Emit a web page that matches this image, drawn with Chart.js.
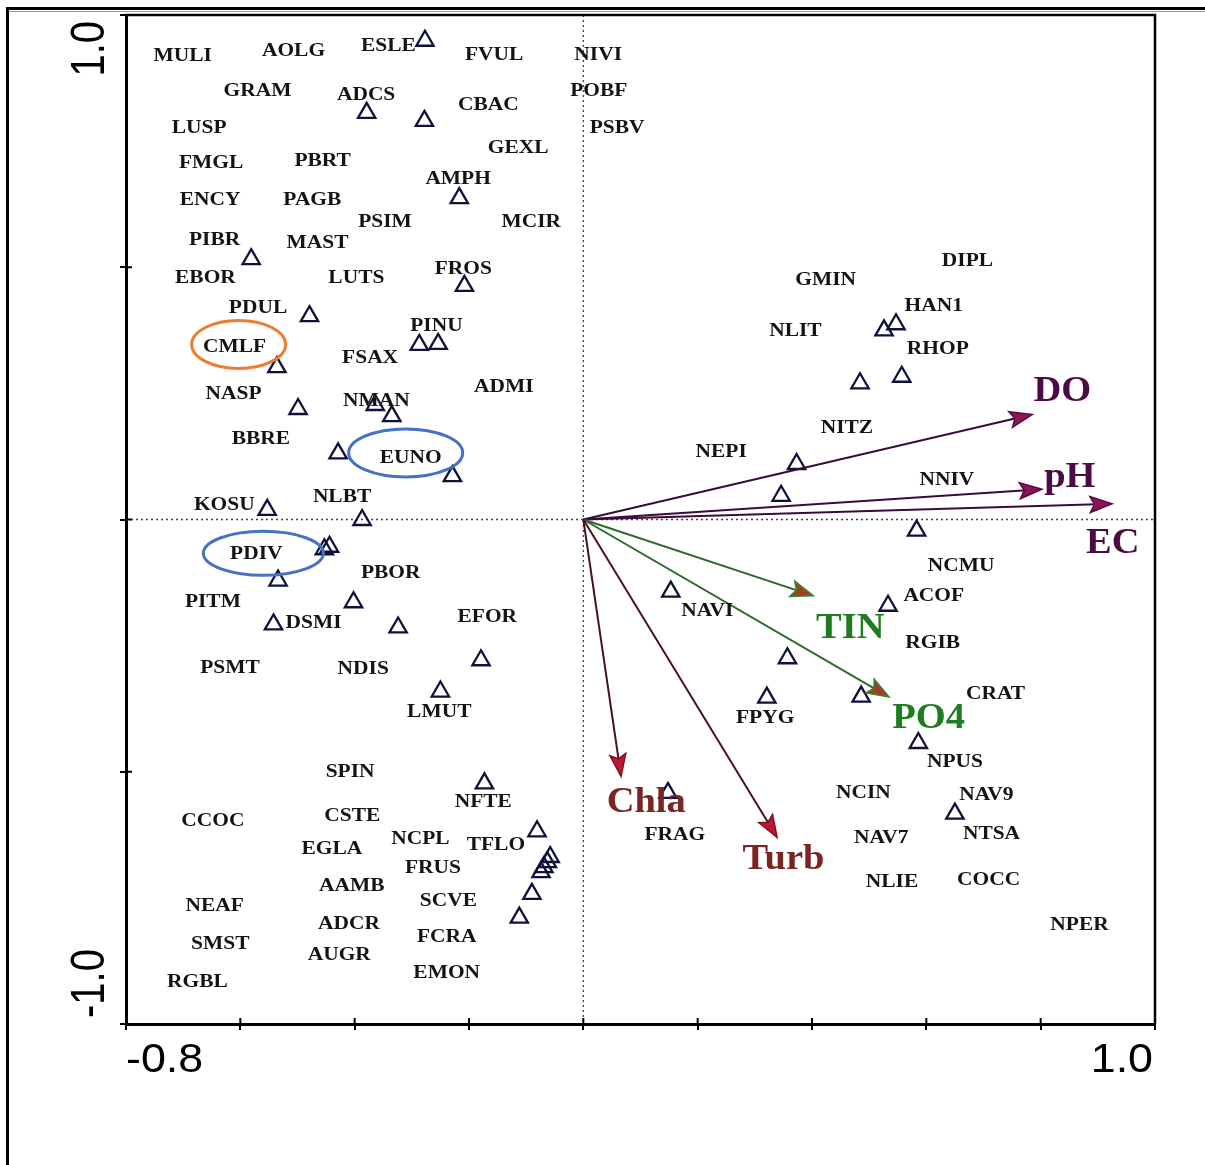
<!DOCTYPE html>
<html><head><meta charset="utf-8">
<script src="https://cdn.jsdelivr.net/npm/chart.js@4/dist/chart.umd.min.js"></script>
<style>html,body{margin:0;padding:0;background:#fff;}canvas{display:block;}</style>
</head><body>
<canvas id="c" width="1205" height="1165"></canvas>
<script>
// ---------- DATA ----------
const speciesNames = [
 'MULI','AOLG','ESLE','FVUL','NIVI','GRAM','ADCS','CBAC','POBF','LUSP',
 'PSBV','GEXL','FMGL','PBRT','AMPH','ENCY','PAGB','PSIM','MCIR','PIBR',
 'MAST','EBOR','LUTS','FROS','PDUL','PINU','CMLF','FSAX','ADMI','NASP',
 'NMAN','BBRE','EUNO','NLBT','KOSU','PDIV','PBOR','PITM','DSMI','EFOR',
 'PSMT','NDIS','LMUT','SPIN','NFTE','CCOC','CSTE','NCPL','TFLO','EGLA',
 'FRUS','AAMB','SCVE','NEAF','ADCR','SMST','FCRA','AUGR','RGBL','EMON',
 'DIPL','GMIN','HAN1','NLIT','RHOP','NITZ','NEPI','NNIV','NCMU','ACOF',
 'NAVI','RGIB','CRAT','FPYG','NPUS','NCIN','NAV9','FRAG','NTSA','NAV7',
 'NLIE','COCC','NPER'];
const speciesX = [
 -0.701,-0.507,-0.341,-0.156,0.026,-0.570,-0.380,-0.166,0.027,-0.672,
 0.059,-0.114,-0.651,-0.456,-0.219,-0.653,-0.474,-0.347,-0.091,-0.645,
 -0.465,-0.661,-0.397,-0.210,-0.569,-0.257,-0.610,-0.373,-0.139,-0.612,
 -0.362,-0.564,-0.302,-0.422,-0.628,-0.572,-0.337,-0.648,-0.472,-0.168,
 -0.618,-0.385,-0.252,-0.408,-0.175,-0.648,-0.404,-0.285,-0.153,-0.440,
 -0.263,-0.405,-0.236,-0.645,-0.410,-0.635,-0.239,-0.427,-0.675,-0.239,
 0.672,0.424,0.613,0.371,0.620,0.461,0.241,0.636,0.661,0.613,
 0.217,0.611,0.721,0.318,0.650,0.490,0.705,0.160,0.714,0.521,
 0.540,0.709,0.868];
const speciesY = [
 0.921,0.930,0.941,0.922,0.922,0.851,0.843,0.823,0.851,0.779,
 0.779,0.739,0.708,0.712,0.676,0.636,0.636,0.591,0.591,0.557,
 0.551,0.480,0.480,0.499,0.422,0.386,0.343,0.323,0.265,0.251,
 0.236,0.162,0.124,0.047,0.031,-0.067,-0.104,-0.161,-0.203,-0.191,
 -0.292,-0.294,-0.379,-0.499,-0.558,-0.596,-0.586,-0.632,-0.643,-0.651,
 -0.689,-0.725,-0.755,-0.764,-0.800,-0.839,-0.826,-0.861,-0.915,-0.897,
 0.515,0.477,0.426,0.376,0.340,0.183,0.136,0.080,-0.090,-0.149,
 -0.180,-0.242,-0.343,-0.391,-0.479,-0.540,-0.545,-0.624,-0.621,-0.630,
 -0.717,-0.713,-0.801];

const siteX = [
 -0.277,-0.379,-0.278,-0.217,-0.581,-0.208,-0.479,-0.287,-0.254,-0.536,
 -0.499,-0.364,-0.335,-0.429,-0.229,-0.553,-0.387,-0.453,-0.444,-0.534,
 -0.402,-0.542,-0.324,-0.179,-0.250,-0.173,-0.081,-0.058,-0.063,-0.069,
 -0.074,-0.090,-0.112,0.526,0.547,0.484,0.557,0.373,0.346,0.583,
 0.533,0.153,0.357,0.321,0.486,0.586,0.148,0.650];
const siteY = [
 0.949,0.806,0.790,0.637,0.516,0.463,0.403,0.346,0.348,0.302,
 0.219,0.227,0.205,0.131,0.086,0.019,-0.001,-0.059,-0.054,-0.121,
 -0.164,-0.208,-0.214,-0.279,-0.341,-0.523,-0.618,-0.669,-0.679,-0.689,
 -0.699,-0.742,-0.789,0.375,0.387,0.270,0.283,0.110,0.047,-0.022,
 -0.171,-0.143,-0.275,-0.353,-0.351,-0.443,-0.542,-0.583];

const envNames = ['DO','pH','EC','TIN','PO4','Chla','Turb'];
const envX = [0.785,0.802,0.925,0.402,0.535,0.066,0.339];
const envY = [0.208,0.060,0.031,-0.151,-0.352,-0.509,-0.630];
const envLabelX = [0.838,0.851,0.926,0.467,0.604,0.110,0.350];
const envLabelY = [0.252,0.083,-0.049,-0.217,-0.395,-0.562,-0.674];
const envGroup = ['phys','phys','phys','nut','nut','turb','turb'];

const xTickValues = [-0.8,-0.6,-0.4,-0.2,0,0.2,0.4,0.6,0.8,1.0];
const xTickLabels = ['-0.8','','','','','','','','','1.0'];
const yTickValues = [-1,-0.5,0,0.5,1];
const yTickLabels = ['-1.0','','','','1.0'];

const highlightNames = ['CMLF','EUNO','PDIV'];
const highlightColors = ['#ED7D31','#4472C4','#4472C4'];

// ---------- STYLES ----------
const groupStyle = {
  phys:{line:'#3a0b3a', head:'#8a1656', headStroke:'#5a0a40', text:'#4b0c44'},
  nut:{line:'#2c6a2c', head:'#a83a2a', headStroke:'#2f8a2f', text:'#1f7d1f'},
  turb:{line:'#4d1020', head:'#c01834', headStroke:'#801020', text:'#7a2424'}
};
const ellipseSize = {CMLF:[47,24,4,-2], EUNO:[57,24,-5,-4], PDIV:[60,22,7,0]};

function stretchedText(ctx, t, x, y, sx, sy){
  ctx.save(); ctx.translate(x,y); ctx.scale(sx,sy||1); ctx.fillText(t,0,0); ctx.restore();
}

const biplot = {
  id:'biplot',
  beforeDatasetsDraw(chart){
    const {ctx, chartArea:a, scales:{x,y}} = chart;
    const x0=x.getPixelForValue(0), y0=y.getPixelForValue(0);
    ctx.save();
    ctx.strokeStyle='#444'; ctx.lineWidth=1.3; ctx.setLineDash([2,3]);
    ctx.beginPath();
    ctx.moveTo(x0,a.top); ctx.lineTo(x0,a.bottom);
    ctx.moveTo(a.left,y0); ctx.lineTo(a.right,y0);
    ctx.stroke();
    ctx.restore();
  },
  afterDatasetsDraw(chart){
    const {ctx, scales:{x,y}} = chart;
    const x0=x.getPixelForValue(0), y0=y.getPixelForValue(0);
    // arrows
    const envMeta = chart.getDatasetMeta(2);
    envMeta.data.forEach((pt,i)=>{
      const st = groupStyle[envGroup[i]];
      const tx=pt.x, ty=pt.y;
      const dx=tx-x0, dy=ty-y0, len=Math.hypot(dx,dy);
      const ux=dx/len, uy=dy/len, px=-uy, py=ux;
      const L=22, W=8;
      ctx.save();
      ctx.strokeStyle=st.line; ctx.lineWidth=2;
      ctx.beginPath(); ctx.moveTo(x0,y0); ctx.lineTo(tx-ux*L*0.7, ty-uy*L*0.7); ctx.stroke();
      ctx.beginPath();
      ctx.moveTo(tx,ty);
      ctx.lineTo(tx-ux*L+px*W, ty-uy*L+py*W);
      ctx.lineTo(tx-ux*L*0.8, ty-uy*L*0.8);
      ctx.lineTo(tx-ux*L-px*W, ty-uy*L-py*W);
      ctx.closePath();
      ctx.fillStyle=st.head; ctx.fill();
      ctx.strokeStyle=st.headStroke; ctx.lineWidth=1.5; ctx.stroke();
      ctx.restore();
    });
    // env labels
    ctx.save();
    ctx.font='bold 35px "Liberation Serif", "Times New Roman", serif';
    ctx.textAlign='center'; ctx.textBaseline='middle';
    envNames.forEach((n,i)=>{
      ctx.fillStyle=groupStyle[envGroup[i]].text;
      stretchedText(ctx, n, x.getPixelForValue(envLabelX[i]), y.getPixelForValue(envLabelY[i]), 1.1);
    });
    ctx.restore();
    // species labels
    const spMeta = chart.getDatasetMeta(1);
    ctx.save();
    ctx.font='bold 19.5px "Liberation Serif", "Times New Roman", serif';
    ctx.textAlign='center'; ctx.textBaseline='middle'; ctx.fillStyle='#141414';
    spMeta.data.forEach((pt,i)=>{ stretchedText(ctx, speciesNames[i], pt.x, pt.y+1, 1.1); });
    ctx.restore();
    // highlight ellipses
    ctx.save(); ctx.lineWidth=3;
    highlightNames.forEach((n,k)=>{
      const i=speciesNames.indexOf(n); const pt=spMeta.data[i]; const e=ellipseSize[n];
      ctx.strokeStyle=highlightColors[k];
      ctx.beginPath(); ctx.ellipse(pt.x+e[2], pt.y+e[3], e[0], e[1], 0, 0, Math.PI*2); ctx.stroke();
    });
    ctx.restore();
  },
  afterDraw(chart){
    const {ctx, chartArea:a, scales:{x,y}} = chart;
    ctx.save();
    ctx.strokeStyle='#000';
    // top and right frame
    ctx.lineWidth=2.5;
    ctx.beginPath(); ctx.moveTo(a.left-1,a.top); ctx.lineTo(a.right,a.top); ctx.lineTo(a.right,a.bottom); ctx.stroke();
    // inner tick halves
    ctx.lineWidth=2;
    ctx.beginPath();
    xTickValues.forEach(v=>{const p=x.getPixelForValue(v); ctx.moveTo(p,a.bottom); ctx.lineTo(p,a.bottom-6);});
    yTickValues.forEach(v=>{const p=y.getPixelForValue(v); ctx.moveTo(a.left,p); ctx.lineTo(a.left+6,p);});
    ctx.stroke();
    // tick labels
    ctx.fillStyle='#000';
    ctx.font='40px "Liberation Sans", Arial, sans-serif';
    ctx.textBaseline='alphabetic';
    xTickValues.forEach((v,i)=>{
      const t=xTickLabels[i]; if(!t) return;
      const p=x.getPixelForValue(v);
      ctx.textAlign = i===0 ? 'left' : 'right';
      stretchedText(ctx, t, i===0 ? p : p-2, a.bottom+48, 1.12);
    });
    yTickValues.forEach((v,i)=>{
      const t=yTickLabels[i]; if(!t) return;
      const p=y.getPixelForValue(v);
      ctx.save();
      ctx.translate(a.left-22, i===0 ? p-6 : p+6);
      ctx.rotate(-Math.PI/2);
      ctx.textAlign = i===0 ? 'left' : 'right';
      ctx.scale(1,1.2);
      ctx.fillText(t,0,0);
      ctx.restore();
    });
    // outer border
    ctx.lineWidth=3; ctx.strokeStyle='#000';
    ctx.beginPath(); ctx.moveTo(7.5,1165); ctx.lineTo(7.5,8.5); ctx.lineTo(1205,8.5); ctx.stroke();
    ctx.lineWidth=1; ctx.strokeStyle='#999';
    ctx.beginPath(); ctx.moveTo(9,11.5); ctx.lineTo(1205,11.5); ctx.stroke();
    ctx.restore();
  }
};

new Chart(document.getElementById('c'), {
  type:'scatter',
  data:{
    datasets:[
      {label:'sites', data:siteX.map((v,i)=>({x:v,y:siteY[i]})), pointStyle:'triangle', pointRadius:10,
       borderColor:'#10103a', borderWidth:2.3, backgroundColor:'rgba(0,0,0,0)'},
      {label:'species', data:speciesX.map((v,i)=>({x:v,y:speciesY[i]})), pointRadius:0},
      {label:'env', data:envX.map((v,i)=>({x:v,y:envY[i]})), pointRadius:0}
    ]
  },
  options:{
    responsive:false, animation:false, devicePixelRatio:1, events:[],
    layout:{padding:{left:126, top:15, right:50, bottom:141}},
    plugins:{legend:{display:false}, tooltip:{enabled:false}},
    scales:{
      x:{type:'linear', min:-0.8, max:1.0,
        ticks:{display:false, stepSize:0.2},
        grid:{drawOnChartArea:false, drawTicks:true, tickLength:6, color:'#000', lineWidth:2},
        border:{display:true, color:'#000', width:3},
        afterFit(s){ s.height=0; }},
      y:{type:'linear', min:-1, max:1,
        ticks:{display:false, stepSize:0.5},
        grid:{drawOnChartArea:false, drawTicks:true, tickLength:6, color:'#000', lineWidth:2},
        border:{display:true, color:'#000', width:3},
        afterFit(s){ s.width=0; }}
    }
  },
  plugins:[biplot]
});
</script>
</body></html>
